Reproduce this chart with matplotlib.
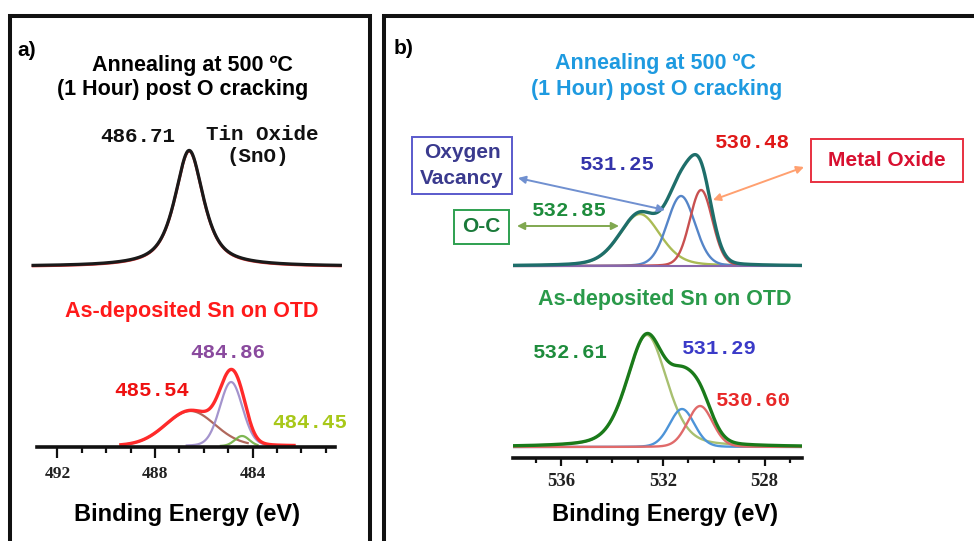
import numpy as np
import matplotlib

matplotlib.use("Agg")
import matplotlib.pyplot as plt  # noqa: E402

W, H = 974, 541

# ---- panel a: Sn 3d ----
a_major_ticks = [492, 488, 484]
a_tick_labels = ["492", "488", "484"]
a_xlim = (492.84, 480.62)

a_top_center = [486.60]
a_top_height = [116]
a_top_fwhm = [1.40]
a_top_eta = [0.75]

a_bot_center = [486.55, 484.88, 484.43]
a_bot_height = [35, 64, 10]
a_bot_fwhm = [2.40, 1.10, 0.70]
a_bot_eta = [0.10, 0.10, 0.0]
a_bot_span = [(489.4, 484.2), (486.7, 483.4), (485.3, 483.8)]
a_bot_total_span = (489.4, 482.3)
a_bot_colors = ["#a8584a", "#9a88c8", "#70b040"]

# ---- panel b: O 1s ----
b_major_ticks = [536, 532, 528]
b_tick_labels = ["536", "532", "528"]
b_xlim = (537.9, 526.53)

b_top_center = [532.91, 531.29, 530.50]
b_top_height = [52, 70, 76]
b_top_fwhm = [1.90, 1.30, 1.05]
b_top_eta = [0.30, 0.10, 0.10]
b_top_colors = ["#aabb55", "#5585c8", "#c85050"]

b_bot_center = [532.63, 531.25, 530.54]
b_bot_height = [112, 38, 41]
b_bot_fwhm = [1.85, 1.15, 1.17]
b_bot_eta = [0.35, 0.10, 0.10]
b_bot_colors = ["#a8c070", "#4d94d8", "#e06a6a"]

# vertical offsets of the stacked spectra (axes units = pixels)
A_TOP_OFFSET, A_BOT_OFFSET = 180, 1
B_TOP_OFFSET, B_BOT_OFFSET = 192, 11

SANS = "Liberation Sans"
MONO = "Liberation Mono"
SERIF = "Liberation Serif"


def pvoigt(e, c, h, w, eta):
    d = (e - c) / w
    return h * (eta / (1 + 4 * d ** 2) + (1 - eta) * np.exp(-4 * np.log(2) * d ** 2))


def fig_rect(x0, y0, x1, y1):
    return [x0 / W, 1 - y1 / H, (x1 - x0) / W, (y1 - y0) / H]


def style_axis(ax, xlim, major, labels, top_px, bottom_px, label_size, major_len, pad):
    ax.set_xlim(*xlim)
    ax.set_ylim(0, bottom_px - top_px)
    for side in ("top", "left", "right"):
        ax.spines[side].set_visible(False)
    ax.spines["bottom"].set_linewidth(2.6)
    ax.spines["bottom"].set_color("#111111")
    ax.set_yticks([])
    ax.set_xticks(major)
    ax.set_xticklabels(labels, fontfamily=SERIF, fontweight="bold", fontsize=label_size, color="#222222")
    ax.set_xticks(np.arange(np.ceil(xlim[1]), np.floor(xlim[0]) + 1, 1.0), minor=True)
    ax.tick_params(axis="x", which="major", direction="out", length=major_len, width=1.6, pad=pad, color="#111111")
    ax.tick_params(axis="x", which="minor", direction="out", length=major_len * 0.55, width=1.6, color="#111111")
    ax.patch.set_alpha(0)


fig = plt.figure(figsize=(W / 100, H / 100), dpi=100)

# ---- panel a spectra ----
ax_a = fig.add_axes(fig_rect(37, 100, 335, 447))
style_axis(ax_a, a_xlim, a_major_ticks, a_tick_labels, 100, 447, 12.5, 8, 6)

e = np.linspace(493.0, 480.4, 800)
top = A_TOP_OFFSET + sum(pvoigt(e, c, h, w, t) for c, h, w, t in zip(a_top_center, a_top_height, a_top_fwhm, a_top_eta))
ax_a.plot(e, top, color="#e03030", lw=2.0, clip_on=False)
ax_a.plot(e, top + 0.6, color="#1a1a1a", lw=2.3, clip_on=False)

for c, h, w, t, span, col in zip(a_bot_center, a_bot_height, a_bot_fwhm, a_bot_eta, a_bot_span, a_bot_colors):
    ee = np.linspace(span[0], span[1], 300)
    ax_a.plot(ee, A_BOT_OFFSET + pvoigt(ee, c, h, w, t), color=col, lw=1.6, alpha=0.9)
ee = np.linspace(a_bot_total_span[0], a_bot_total_span[1], 500)
tot = A_BOT_OFFSET + sum(pvoigt(ee, c, h, w, t) for c, h, w, t in zip(a_bot_center, a_bot_height, a_bot_fwhm, a_bot_eta))
ax_a.plot(ee, tot, color="#ff2a2a", lw=2.4)

# ---- panel b spectra ----
ax_b = fig.add_axes(fig_rect(513, 100, 802, 458))
style_axis(ax_b, b_xlim, b_major_ticks, b_tick_labels, 100, 458, 13.5, 6, 5)

e = np.linspace(b_xlim[0], b_xlim[1], 800)
comps = []
for c, h, w, t, col in zip(b_top_center, b_top_height, b_top_fwhm, b_top_eta, b_top_colors):
    y = pvoigt(e, c, h, w, t)
    comps.append(y)
    ax_b.plot(e, B_TOP_OFFSET + y, color=col, lw=1.7)
ax_b.plot(e, np.full_like(e, B_TOP_OFFSET), color="#8866aa", lw=1.5)
ax_b.plot(e, B_TOP_OFFSET + sum(comps), color="#1e6e6a", lw=2.4)

comps = []
for c, h, w, t, col in zip(b_bot_center, b_bot_height, b_bot_fwhm, b_bot_eta, b_bot_colors):
    y = pvoigt(e, c, h, w, t)
    comps.append(y)
    ax_b.plot(e, B_BOT_OFFSET + y, color=col, lw=1.7)
ax_b.plot(e, B_BOT_OFFSET + sum(comps), color="#1a7a1a", lw=2.4)

# ---- overlay in pixel coordinates: frames, text, boxes, arrows ----
ov = fig.add_axes([0, 0, 1, 1], zorder=5)
ov.set_xlim(0, W)
ov.set_ylim(H, 0)
ov.axis("off")
ov.patch.set_alpha(0)

ov.plot([9.5, 9.5, 369.5, 369.5], [H + 5, 15.5, 15.5, H + 5], color="#111111", lw=2.9,
        solid_joinstyle="miter", clip_on=False)
ov.plot([384, 384, W + 5], [H + 5, 16, 16], color="#111111", lw=2.9, solid_joinstyle="miter", clip_on=False)

sans_kw = dict(ha="center", va="center", fontfamily=SANS, fontweight="bold", fontsize=15.5)
mono_kw = dict(ha="center", va="center", fontfamily=MONO, fontweight="bold", fontsize=15)

ov.text(27, 50, "a)", **{**sans_kw, "fontsize": 15})
ov.text(404, 48, "b)", **{**sans_kw, "fontsize": 15})

ov.text(192, 65, "Annealing at 500 ºC", color="black", **sans_kw)
ov.text(183, 90, "(1 Hour) post O cracking", color="black", **sans_kw)
ov.text(655, 64, "Annealing at 500 ºC", color="#1e9ae0", **sans_kw)
ov.text(657, 90, "(1 Hour) post O cracking", color="#1e9ae0", **sans_kw)

ov.text(192, 311, "As-deposited Sn on OTD", color="#ff1a1a", **sans_kw)
ov.text(665, 300, "As-deposited Sn on OTD", color="#2a9a4a", **sans_kw)

ov.text(187, 515, "Binding Energy (eV)", color="black", **{**sans_kw, "fontsize": 17})
ov.text(665, 515, "Binding Energy (eV)", color="black", **{**sans_kw, "fontsize": 17})

# peak labels, panel a
ov.text(138, 137, "486.71", color="#111111", **mono_kw)
ov.text(262, 135, "Tin Oxide", color="#111111", **mono_kw)
ov.text(258, 157, "(SnO)", color="#111111", **mono_kw)
ov.text(228, 352, "484.86", color="#8a4a9e", **mono_kw)
ov.text(152, 390, "485.54", color="#ee1111", **mono_kw)
ov.text(310, 422, "484.45", color="#a8c81a", **mono_kw)

# peak labels, panel b
ov.text(617, 164, "531.25", color="#3333aa", **mono_kw)
ov.text(752, 142, "530.48", color="#e01818", **mono_kw)
ov.text(569, 210, "532.85", color="#1e8c3c", **mono_kw)
ov.text(570, 352, "532.61", color="#1e8c3c", **mono_kw)
ov.text(719, 348, "531.29", color="#3a3ac8", **mono_kw)
ov.text(753, 400, "530.60", color="#e82828", **mono_kw)

# labelled boxes
boxes = [
    ((412, 137, 512, 194), "#5a5acc", "#3a3a8e", [("Oxygen", 152), ("Vacancy", 178)]),
    ((454, 210, 509, 244), "#2ea050", "#1a7a3a", [("O-C", 227)]),
    ((811, 139, 963, 182), "#e83040", "#d81030", [("Metal Oxide", 160)]),
]
for (x0, y0, x1, y1), edge, tcol, lines in boxes:
    ov.add_patch(plt.Rectangle((x0, y0), x1 - x0, y1 - y0, fill=False, edgecolor=edge, lw=1.4))
    for s, yy in lines:
        ov.text((x0 + x1) / 2, yy, s, color=tcol, **{**sans_kw, "fontsize": 15})

arrows = [
    ((518, 178), (665, 210), "#7090d0"),
    ((517, 226), (619, 226), "#80a850"),
    ((804, 167), (713, 200), "#ffa070"),
]
for start, end, col in arrows:
    ov.annotate("", xy=end, xytext=start,
                arrowprops=dict(arrowstyle="<|-|>", color=col, lw=1.4, mutation_scale=11, shrinkA=0, shrinkB=0))

fig.savefig("out.png", dpi=100)
